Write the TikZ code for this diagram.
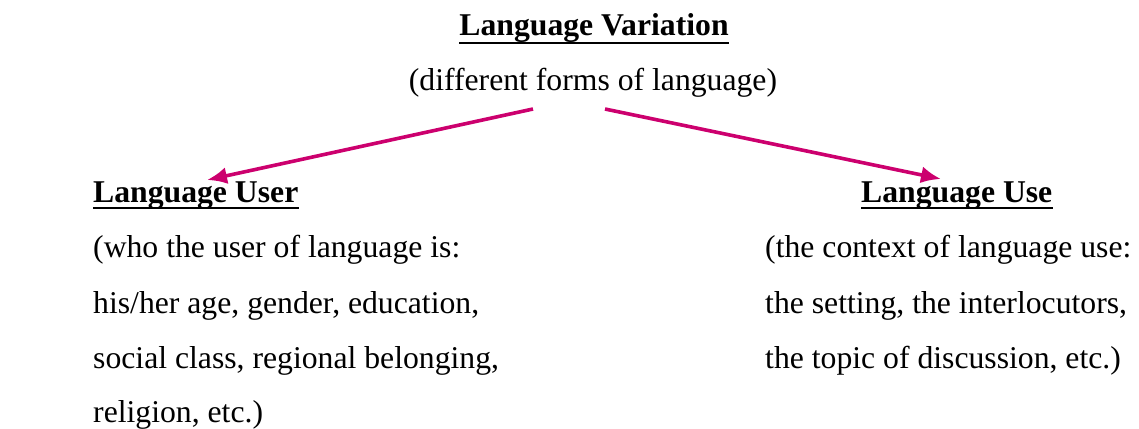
\documentclass[tikz,border=0pt]{standalone}
\usepackage{fontspec}
\setmainfont{Liberation Serif}
\usetikzlibrary{arrows.meta}
\definecolor{arrowpink}{RGB}{204,0,110}

\begin{document}
\begin{tikzpicture}[x=1pt, y=-1pt,
    txt/.style={inner sep=0pt, font=\fontsize{31.7}{38}\selectfont},
    head/.style={txt, font=\fontsize{31.7}{38}\selectfont\bfseries},
    uline/.style={line width=2.6pt},
    varrow/.style={draw=arrowpink, line width=3.6pt, -{Latex[length=20pt, width=17pt]}}]
        \useasboundingbox (0,0) rectangle (1139,428);

        % Top heading
            \node[head, anchor=base] (var) at (594, 36) {Language Variation};
            \node[txt, anchor=base] (forms) at (593, 90) {(different forms of language)};

        % Left branch
            \node[head, anchor=base west] (user) at (93, 202) {Language User};
            \node[txt, anchor=base west] (u1) at (93, 257) {(who the user of language is:};
            \node[txt, anchor=base west] (u2) at (93, 313) {his/her age, gender, education,};
            \node[txt, anchor=base west] (u3) at (93, 368) {social class, regional belonging,};
            \node[txt, anchor=base west] (u4) at (93, 422) {religion, etc.)};

        % Right branch
            \node[head, anchor=base west] (use) at (861, 202) {Language Use};
            \node[txt, anchor=base west] (s1) at (765, 257) {(the context of language use:};
            \node[txt, anchor=base west] (s2) at (765, 313) {the setting, the interlocutors,};
            \node[txt, anchor=base west] (s3) at (765, 368) {the topic of discussion, etc.)};

        % Underlines
            \draw[uline] ([yshift=-7pt]var.base west) -- ([yshift=-7pt]var.base east);
            \draw[uline] ([yshift=-6pt]user.base west) -- ([yshift=-6pt]user.base east);
            \draw[uline] ([yshift=-6pt]use.base west) -- ([yshift=-6pt]use.base east);

        % Arrows
            \coordinate (fromL) at (533, 109);
            \coordinate (fromR) at (605, 109);
            \coordinate (toL) at (207, 180);
            \coordinate (toR) at (941, 179);
            \draw[varrow] (fromL) -- (toL);
            \draw[varrow] (fromR) -- (toR);
    \end{tikzpicture}
\end{document}
